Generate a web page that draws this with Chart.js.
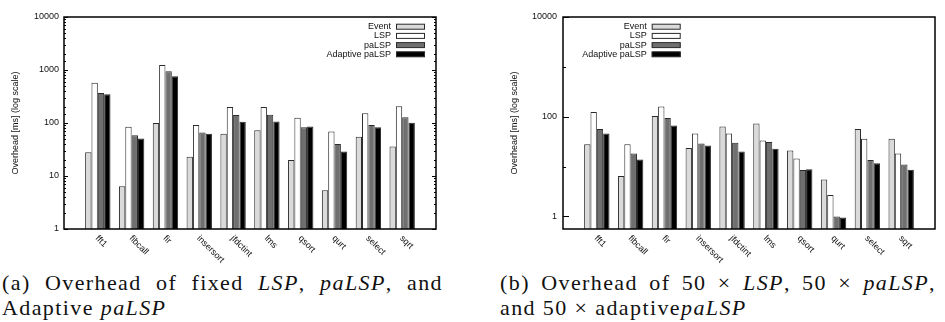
<!DOCTYPE html>
<html>
<head>
<meta charset="utf-8">
<script src="https://cdn.jsdelivr.net/npm/chart.js@4.4.1/dist/chart.umd.min.js"></script>
<style>
    body { margin: 0; background: #fff; width: 945px; height: 322px; position: relative; overflow: hidden; }
    canvas { position: absolute; top: 0; }
    #chartA { left: 0; }
    #chartB { left: 470px; }
    .cap { position: absolute; top: 270px; font-family: 'Liberation Serif', serif; font-size: 22px; line-height: 25px; letter-spacing: 1.4px; color: #111; }
    .cap .l1 { text-align: justify; text-align-last: justify; }
    #capA { left: 2px; width: 441px; }
    #capB { left: 500px; width: 436px; }
</style>
</head>
<body>
<canvas id="chartA" width="470" height="270"></canvas>
<canvas id="chartB" width="475" height="270"></canvas>
<div class="cap" id="capA"><div class="l1">(a) Overhead of fixed <i>LSP</i>, <i>paLSP</i>, and</div><div>Adaptive <i>paLSP</i></div></div>
<div class="cap" id="capB"><div class="l1">(b) Overhead of 50 × <i>LSP</i>, 50 × <i>paLSP</i>,</div><div>and 50 × adaptive<i>paLSP</i></div></div>
<script>
// Datos (ms, escala log)
const categories = ['fft1', 'fibcall', 'fir', 'insersort', 'jfdctint', 'lms', 'qsort', 'qurt', 'select', 'sqrt'];
const seriesNames = ['Event', 'LSP', 'paLSP', 'Adaptive paLSP'];

// (a) fixed
const fixedEvent    = [28, 6.4, 100, 23, 63, 73, 20, 5.4, 55, 36];
const fixedLsp      = [577, 85, 1243, 92, 200, 200, 126, 69, 152, 206];
const fixedPalsp    = [368, 59, 944, 66, 142, 143, 83, 40, 92, 128];
const fixedAdaptive = [347, 51, 760, 63, 106, 107, 86, 29, 83, 101];

// (b) 50 x
const scaledEvent    = [28, 6.5, 103, 23.5, 64, 73, 21, 5.5, 57, 36];
const scaledLsp      = [124, 28, 161, 46, 46, 33.5, 14.6, 2.7, 36, 18.4];
const scaledPalsp    = [57, 18.4, 94, 29, 30, 31, 8.5, 1.0, 13.5, 11];
const scaledAdaptive = [46, 13.9, 67, 26.6, 20, 22.8, 8.8, 0.95, 11.6, 8.6];

const FILLS = ['#dadada', '#ffffff', '#6f6f6f', '#000000'];
const EDGE = '#2a2a2a';
const SANS = "'Liberation Sans', Arial, sans-serif";

function isPow10(v) {
    const e = Math.log10(v);
    return Math.abs(e - Math.round(e)) < 1e-6;
}

function bars(values, i) {
    return {
        label: seriesNames[i],
        data: values.map((v, k) => ({ x: k, y: v })),
        backgroundColor: FILLS[i],
        borderColor: EDGE,
        borderWidth: 1,
        categoryPercentage: 0.75,
        barPercentage: 1,
    };
}

// -------------------------------------------------------
// Plugin: marco, ticks hacia dentro, etiquetas x giradas y leyenda
// -------------------------------------------------------
const gnuplotLook = {
    id: 'gnuplotLook',
    afterDatasetsDraw(chart, args, o) {
        const { ctx, chartArea: a, scales: { y } } = chart;
        ctx.save();
        ctx.strokeStyle = '#000';
        ctx.lineWidth = 1;
        y.ticks.forEach(t => {
            let len = o.minor;
            if (isPow10(t.value)) {
                len = Math.round(Math.log10(t.value)) % o.labelStep === 0 ? o.major : o.middle;
            }
            if (!len) return;
            const py = Math.round(y.getPixelForValue(t.value)) + 0.5;
            ctx.beginPath();
            ctx.moveTo(a.left, py); ctx.lineTo(a.left + len, py);
            if (o.mirror) { ctx.moveTo(a.right, py); ctx.lineTo(a.right - len, py); }
            ctx.stroke();
        });
        ctx.lineWidth = 1.5;
        ctx.strokeRect(Math.round(a.left), Math.round(a.top), Math.round(a.width), Math.round(a.height));
        ctx.restore();
    },
    afterDraw(chart, args, o) {
        const { ctx, chartArea: a, scales: { x } } = chart;
        ctx.save();
        ctx.fillStyle = '#111';
        ctx.font = '9px ' + SANS;
        // etiquetas del eje x, giradas -45 (estilo gnuplot)
        categories.forEach((c, i) => {
            ctx.save();
            ctx.translate(x.getPixelForValue(i) - 1, a.bottom + 8);
            ctx.rotate(Math.PI / 4);
            ctx.textAlign = 'left';
            ctx.textBaseline = 'middle';
            ctx.fillText(c, 0, 0);
            ctx.restore();
        });
        // leyenda
        ctx.textAlign = 'right';
        ctx.textBaseline = 'middle';
        chart.data.datasets.forEach((ds, i) => {
            const ry = o.legendY + i * 9.2;
            ctx.fillStyle = '#111';
            ctx.fillText(ds.label, o.legendX, ry);
            ctx.fillStyle = ds.backgroundColor;
            ctx.fillRect(o.legendX + 5, ry - 2.5, 29, 5);
            ctx.strokeStyle = EDGE;
            ctx.lineWidth = 1;
            ctx.strokeRect(o.legendX + 5.5, ry - 2.5, 28, 5);
        });
        ctx.restore();
    }
};

function makeChart(id, series, cfg) {
    return new Chart(document.getElementById(id), {
        type: 'bar',
        data: { datasets: series.map(bars) },
        options: {
            responsive: false,
            animation: false,
            layout: { padding: { top: 17, right: cfg.padRight, left: 0, bottom: 0 } },
            plugins: {
                legend: { display: false },
                tooltip: { enabled: false },
                gnuplotLook: cfg.look,
            },
            scales: {
                x: {
                    type: 'linear',
                    min: -1,
                    max: 10,
                    offset: false,
                    grid: { display: false },
                    border: { display: false },
                    ticks: { display: false },
                    afterFit: s => { s.height = 270 - 229; },
                },
                y: {
                    type: 'logarithmic',
                    min: cfg.yMin,
                    max: 10000,
                    grid: { display: false, drawTicks: false },
                    border: { display: false },
                    ticks: {
                        autoSkip: false,
                        padding: cfg.tickPad,
                        color: '#111',
                        font: { family: SANS, size: 9 },
                        callback: v => (isPow10(v) && Math.round(Math.log10(v)) % cfg.look.labelStep === 0) ? String(Math.round(v)) : '',
                    },
                    title: {
                        display: true,
                        text: 'Overhead [ms] (log scale)',
                        color: '#111',
                        font: { family: SANS, size: 9 },
                        padding: { top: cfg.titlePad, bottom: 0 },
                    },
                    afterFit: s => { s.width = cfg.axisWidth; },
                }
            }
        },
        plugins: [gnuplotLook]
    });
}

makeChart('chartA', [fixedEvent, fixedLsp, fixedPalsp, fixedAdaptive], {
    padRight: 34, axisWidth: 64, yMin: 1, tickPad: 5, titlePad: 10.5,
    look: { major: 4, middle: 4, minor: 2, mirror: true, labelStep: 1, legendX: 391, legendY: 26.7 },
});

makeChart('chartB', [scaledEvent, scaledLsp, scaledPalsp, scaledAdaptive], {
    padRight: 10, axisWidth: 93, yMin: 0.56, tickPad: 6, titlePad: 39.5,
    look: { major: 6, middle: 3, minor: 0, mirror: false, labelStep: 2, legendX: 176.7, legendY: 26.7 },
});
</script>
</body>
</html>
